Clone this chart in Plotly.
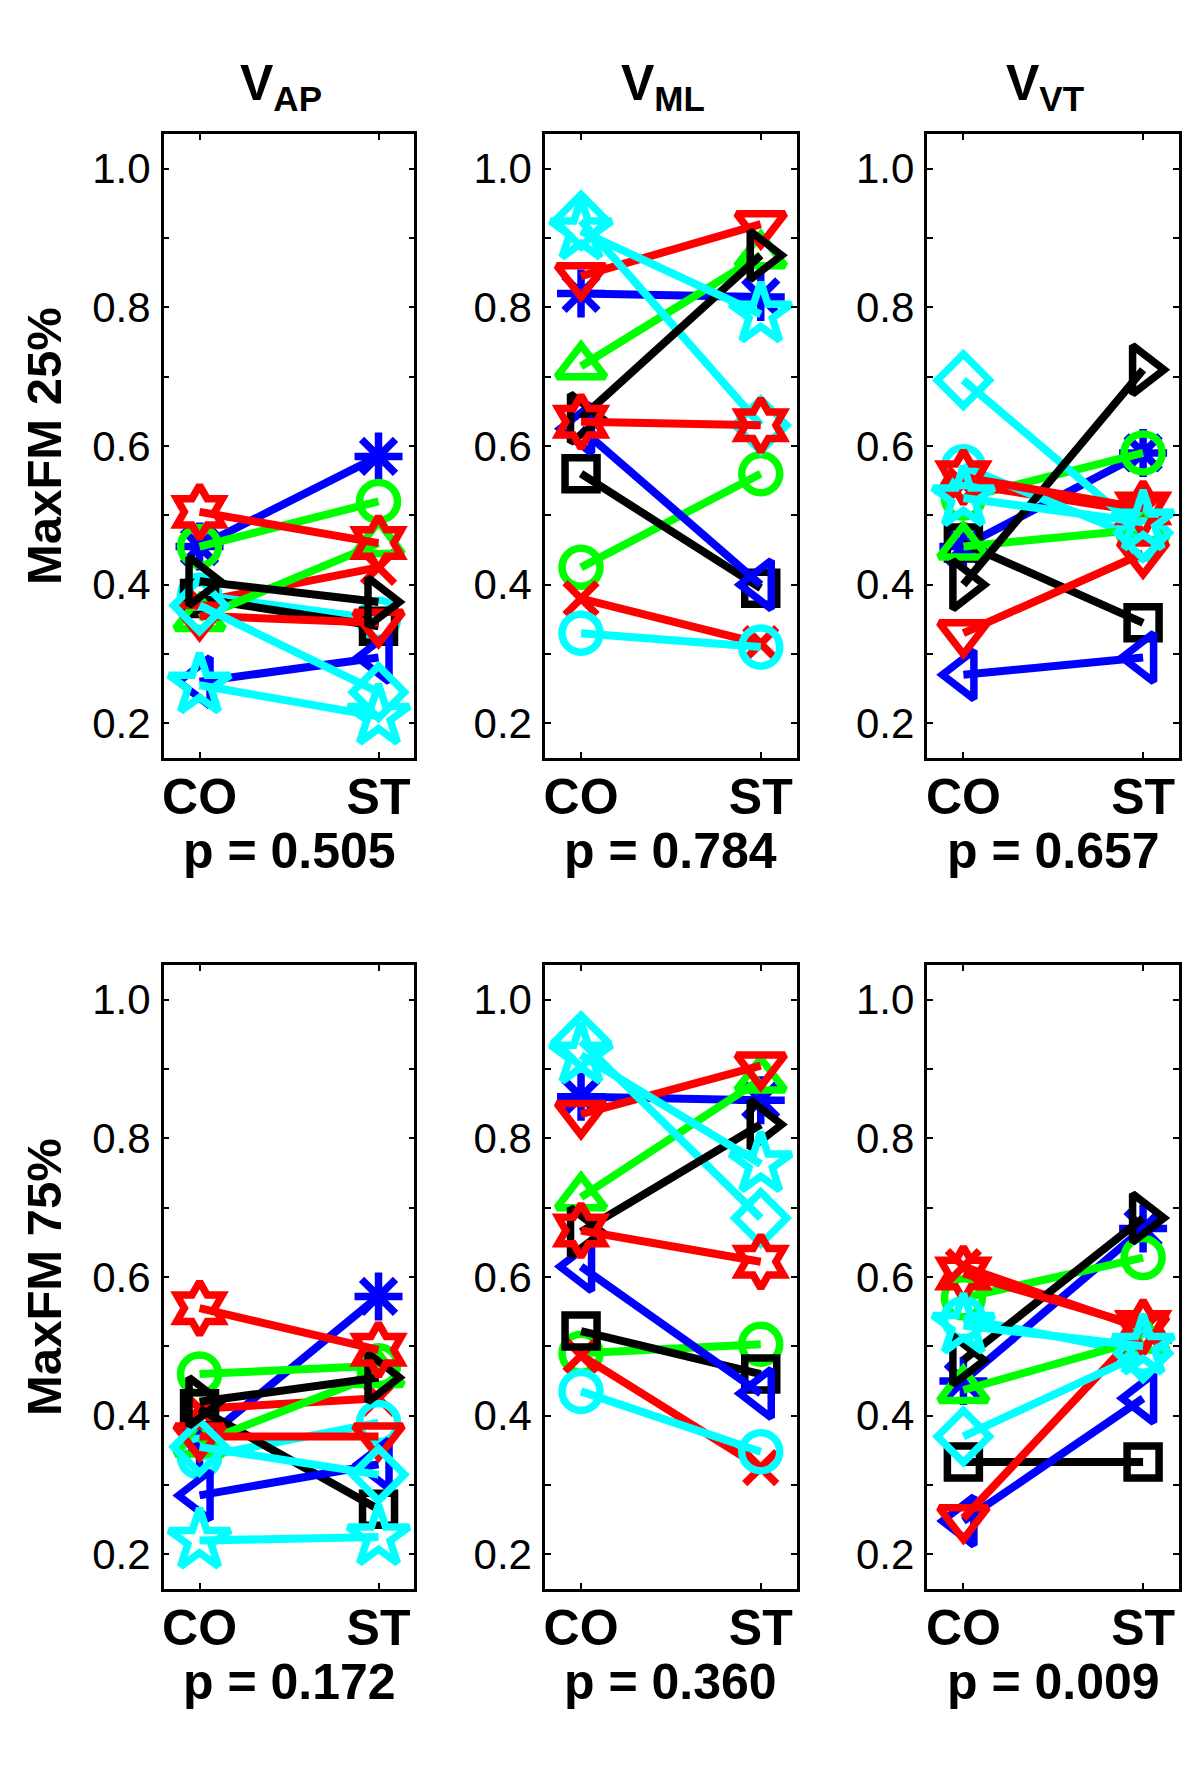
import plotly.graph_objects as go

# page body has an 8px margin; figure is sized so it fills the 1200x1786 window
OFF = 8
W, H = 1200 - 2 * OFF, 1786 - 2 * OFF

# ---------------- data ----------------
conditions = ["CO", "ST"]
condition_pos = [1, 2]
components = ["V<sub>AP</sub>", "V<sub>ML</sub>", "V<sub>VT</sub>"]
row_labels = ["MaxFM 25%", "MaxFM 75%"]
p_values = [["0.505", "0.784", "0.657"], ["0.172", "0.360", "0.009"]]

series_colors = ["#0000FF", "#00FF00", "#FF0000", "#00FFFF", "#000000", "#0000FF",
                 "#00FF00", "#FF0000", "#00FFFF", "#000000", "#FF0000", "#00FFFF"]
series_symbols = ["asterisk-open", "circle-open", "x-thin-open", "circle-open",
                  "square-open", "triangle-left-open", "triangle-up-open",
                  "triangle-down-open", "diamond-open", "triangle-right-open",
                  "hexagram-open", "star-open"]
series_sizes = [40, 38, 32, 38, 32, 42, 42, 42, 40, 42, 40, 46]

# order: b*, go, rx, co, ks, b<, g^, rv, cd, k>, rh, cp
vap25_co = [0.455, 0.455, 0.375, 0.385, 0.380, 0.260, 0.352, 0.355, 0.370, 0.405, 0.505, 0.255]
vap25_st = [0.585, 0.520, 0.425, 0.350, 0.340, 0.295, 0.460, 0.345, 0.245, 0.375, 0.460, 0.210]

vml25_co = [0.820, 0.425, 0.380, 0.330, 0.560, 0.625, 0.715, 0.845, 0.925, 0.640, 0.635, 0.910]
vml25_st = [0.815, 0.560, 0.315, 0.310, 0.395, 0.400, 0.875, 0.920, 0.630, 0.875, 0.630, 0.790]

vvt25_co = [0.455, 0.525, 0.545, 0.570, 0.460, 0.270, 0.455, 0.330, 0.695, 0.400, 0.555, 0.525]
vvt25_st = [0.590, 0.590, 0.505, 0.465, 0.345, 0.295, 0.480, 0.445, 0.475, 0.710, 0.510, 0.490]

vap75_co = [0.360, 0.460, 0.410, 0.340, 0.410, 0.285, 0.360, 0.370, 0.355, 0.420, 0.555, 0.220]
vap75_st = [0.572, 0.472, 0.425, 0.390, 0.265, 0.330, 0.460, 0.370, 0.315, 0.455, 0.495, 0.225]

vml75_co = [0.860, 0.490, 0.487, 0.435, 0.522, 0.615, 0.715, 0.835, 0.940, 0.665, 0.667, 0.920]
vml75_st = [0.855, 0.503, 0.325, 0.348, 0.460, 0.432, 0.885, 0.905, 0.685, 0.820, 0.622, 0.763]

vvt75_co = [0.450, 0.570, 0.615, 0.540, 0.333, 0.248, 0.437, 0.252, 0.370, 0.480, 0.605, 0.530]
vvt75_st = [0.670, 0.628, 0.525, 0.490, 0.333, 0.425, 0.510, 0.527, 0.490, 0.685, 0.528, 0.500]

panels = [
    [(vap25_co, vap25_st), (vml25_co, vml25_st), (vvt25_co, vvt25_st)],
    [(vap75_co, vap75_st), (vml75_co, vml75_st), (vvt75_co, vvt75_st)],
]

y_tickvals = [0.2, 0.3, 0.4, 0.5, 0.6, 0.7, 0.8, 0.9, 1.0]
y_ticktext = ["0.2", "", "0.4", "", "0.6", "", "0.8", "", "1.0"]

# ---------------- layout geometry (window pixels) ----------------
col_px = [(162, 413), (544, 796), (927, 1179)]
row_px = [(134, 758), (965, 1589)]


def px_x(x):
    return (x - OFF) / W


def px_y(y):
    return 1 - (y - OFF) / H


FONT = "Arial, Liberation Sans, Helvetica, sans-serif"

fig = go.Figure()
layout = dict(
    width=W, height=H,
    margin=dict(l=0, r=0, t=0, b=0),
    paper_bgcolor="white", plot_bgcolor="white",
    showlegend=False,
    font=dict(family=FONT, color="black"),
)
annotations = []

k = 0
for r in range(2):
    for c in range(3):
        k += 1
        xa = "x" if k == 1 else f"x{k}"
        ya = "y" if k == 1 else f"y{k}"
        co_vals, st_vals = panels[r][c]
        for i in range(len(series_colors)):
            fig.add_trace(go.Scatter(
                x=condition_pos, y=[co_vals[i], st_vals[i]],
                mode="lines+markers",
                line=dict(color=series_colors[i], width=8),
                marker=dict(symbol=series_symbols[i], size=series_sizes[i],
                            color=series_colors[i],
                            line=dict(color=series_colors[i], width=7.5)),
                xaxis=xa, yaxis=ya, hoverinfo="skip",
            ))
        x0, x1 = col_px[c]
        y0, y1 = row_px[r]
        layout["xaxis" if k == 1 else f"xaxis{k}"] = dict(
            domain=[px_x(x0), px_x(x1)], range=[0.8, 2.2],
            anchor=ya, tickvals=condition_pos, ticktext=conditions,
            ticks="inside", ticklen=6, tickwidth=2, tickcolor="black",
            showline=True, linecolor="black", linewidth=2.5, mirror="ticks",
            showgrid=False, zeroline=False,
            tickfont=dict(size=50, family=FONT, weight="bold", color="black"),
            ticklabelstandoff=-7,
        )
        layout["yaxis" if k == 1 else f"yaxis{k}"] = dict(
            domain=[px_y(y1), px_y(y0)], range=[0.15, 1.05],
            anchor=xa, tickvals=y_tickvals, ticktext=y_ticktext,
            ticks="inside", ticklen=6, tickwidth=2, tickcolor="black",
            showline=True, linecolor="black", linewidth=2.5, mirror="ticks",
            showgrid=False, zeroline=False,
            tickfont=dict(size=42, family=FONT, color="black"),
            ticklabelstandoff=2,
        )
        cx = (x0 + x1) / 2
        # p-value
        annotations.append(dict(
            text=f"p = {p_values[r][c]}", x=px_x(cx), y=px_y(y1 + 93),
            xref="paper", yref="paper", xanchor="center", yanchor="middle",
            showarrow=False,
            font=dict(size=50, family=FONT, weight="bold", color="black"),
        ))
        if r == 0:
            annotations.append(dict(
                text=components[c], x=px_x(cx - 8), y=px_y(y0 - 14),
                xref="paper", yref="paper", xanchor="center", yanchor="bottom",
                showarrow=False,
                font=dict(size=50, family=FONT, weight="bold", color="black"),
            ))
    y0, y1 = row_px[r]
    annotations.append(dict(
        text=row_labels[r], x=px_x(42), y=px_y((y0 + y1) / 2),
        xref="paper", yref="paper", xanchor="center", yanchor="middle",
        textangle=-90, showarrow=False,
        font=dict(size=49, family=FONT, weight="bold", color="black"),
    ))

layout["annotations"] = annotations
fig.update_layout(**layout)
fig.write_html("out.html")
